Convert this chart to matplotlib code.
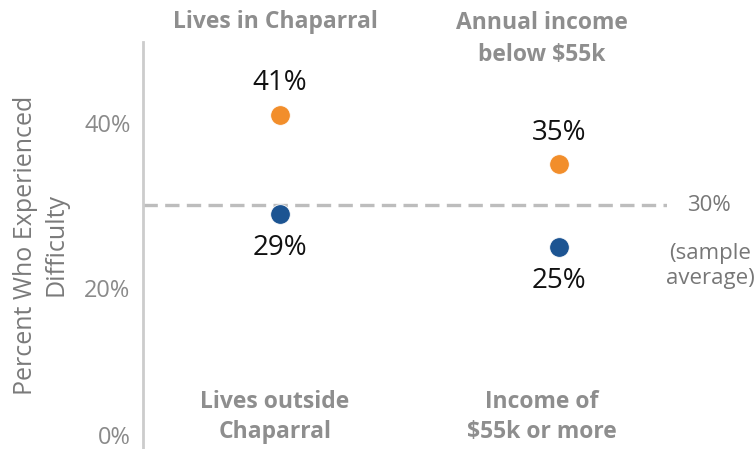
"""
Dot chart: share who experienced difficulty, by place and income group.
"""

import matplotlib
matplotlib.use('Agg')
import matplotlib.pyplot as plt
import matplotlib.transforms as mtransforms

# data
groups = [0, 1]
top_labels = ['Lives in Chaparral', 'Annual income\nbelow $55k']
bottom_labels = ['Lives outside\nChaparral', 'Income of\n$55k or more']
high_values = [41, 35]   # orange
low_values = [29, 25]    # blue
sample_average = 30
y_ticks = [0, 20, 40]

ORANGE = '#f28e2b'
BLUE = '#1c5492'
HEADER_GRAY = '#8e8e8e'
TICK_GRAY = '#8a8a8a'
FONT = 'Open Sans'

fig = plt.figure(figsize=(7.55, 4.49), dpi=100)
# axes spans x 143..667 px, y 42..453 px (0% sits just below the image)
L, R, T, B = 143, 667, 42, 453
W, H = R - L, B - T
ax = fig.add_axes([L / 755, (449 - B) / 449, W / 755, H / 449])

ax.set_xlim(-137 / 279, 1 + 108 / 279)
ax.set_ylim(0, 49.8)

# sample average line
ax.axhline(sample_average, color='#bdbdbd', lw=2.4, ls=(0, (4.3, 2.2)), zorder=1)
ax.annotate(f'{sample_average}%', (1.0, sample_average), xycoords=ax.get_yaxis_transform(),
            xytext=(20 * 0.72, 0), textcoords='offset points',
            ha='left', va='center', fontsize=16, color='#777777', family=FONT,
            annotation_clip=False)
ax.annotate('(sample\naverage)', (1.0, sample_average), xycoords=ax.get_yaxis_transform(),
            xytext=(43 * 0.72, -61 * 0.72), textcoords='offset points',
            ha='center', va='center', fontsize=16, color='#777777', family=FONT,
            linespacing=1.25, annotation_clip=False)

# dots
ax.scatter(groups, high_values, s=200, color=ORANGE, edgecolor='white', lw=0.6, zorder=3)
ax.scatter(groups, low_values, s=200, color=BLUE, edgecolor='white', lw=0.6, zorder=3)

for x, hv, lv in zip(groups, high_values, low_values):
    ax.annotate(f'{hv}%', (x, hv), xytext=(0, 31.5 * 0.72), textcoords='offset points',
                ha='center', va='center', fontsize=20, family=FONT, color='#111111')
    ax.annotate(f'{lv}%', (x, lv), xytext=(0, -34 * 0.72), textcoords='offset points',
                ha='center', va='center', fontsize=20, family=FONT, color='#111111')

# header / footer group labels (pixel centres)
label_shift = [-5, -17]
for x, top, bottom, dx in zip(groups, top_labels, bottom_labels, label_shift):
    top_y = 39 if '\n' in top else 22
    ax.annotate(top, (x, (B - top_y) / H), xycoords=ax.get_xaxis_transform(),
                xytext=(dx * 0.72, 0), textcoords='offset points',
                ha='center', va='center', fontsize=16.5, fontweight='bold', family=FONT,
                color=HEADER_GRAY, linespacing=1.4, annotation_clip=False)
    ax.annotate(bottom, (x, (B - 417) / H), xycoords=ax.get_xaxis_transform(),
                xytext=(dx * 0.72, 0), textcoords='offset points',
                ha='center', va='center', fontsize=16.5, fontweight='bold', family=FONT,
                color=HEADER_GRAY, linespacing=1.35, annotation_clip=False)

# axes styling
for side in ['top', 'right', 'bottom']:
    ax.spines[side].set_visible(False)
ax.spines['left'].set_color('#cccccc')
ax.spines['left'].set_linewidth(2)
ax.set_xticks([])
ax.set_yticks(y_ticks)
ax.set_yticklabels([f'{t}%' for t in y_ticks])
ax.tick_params(axis='y', length=0, pad=9, labelsize=17, labelcolor=TICK_GRAY)
for lab in ax.get_yticklabels():
    lab.set_family(FONT)
# pull the 0% label up into view
zero_lab = ax.get_yticklabels()[0]
zero_lab.set_transform(zero_lab.get_transform() +
                       mtransforms.ScaledTranslation(0, 18 / 100, fig.dpi_scale_trans))

ax.text((41 - L) / W, (B - 245) / H, 'Percent Who Experienced\nDifficulty',
        transform=ax.transAxes, rotation=90, ha='center', va='center',
        fontsize=18, color='#7a7a7a', family=FONT, linespacing=1.3)

fig.savefig('out.png', dpi=100)
